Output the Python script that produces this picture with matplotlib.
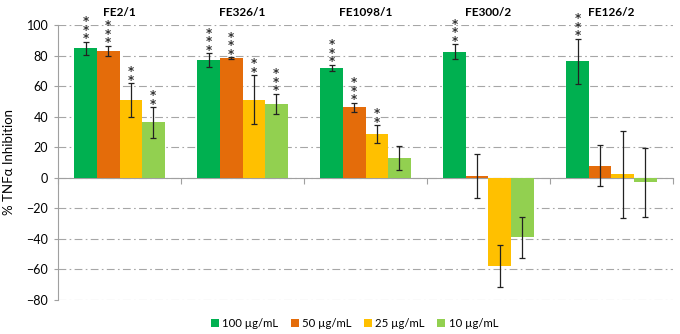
import matplotlib.pyplot as plt
import numpy as np

# extracts and concentrations
extracts = ["FE2/1", "FE326/1", "FE1098/1", "FE300/2", "FE126/2"]
doses = ["100 µg/mL", "50 µg/mL", "25 µg/mL", "10 µg/mL"]
colors = ["#00B050", "#E46C0A", "#FFC000", "#92D050"]

# % TNFa inhibition, one list per dose (order follows extracts)
inh_100 = [84.7, 76.9, 72.0, 82.5, 76.2]
inh_50 = [83.0, 78.4, 46.1, 1.3, 7.9]
inh_25 = [50.9, 51.0, 28.6, -57.8, 2.2]
inh_10 = [36.3, 48.3, 13.1, -39.0, -3.0]

err_100 = [4.5, 4.5, 2.0, 5.0, 14.7]
err_50 = [3.5, 0.5, 3.0, 14.5, 13.5]
err_25 = [11.0, 16.0, 5.7, 13.5, 28.5]
err_10 = [10.0, 6.7, 7.7, 13.6, 22.5]

# significance stars
sig_100 = ["***", "***", "***", "***", "***"]
sig_50 = ["***", "***", "***", "", ""]
sig_25 = ["**", "**", "**", "", ""]
sig_10 = ["**", "***", "", "", ""]

values = [inh_100, inh_50, inh_25, inh_10]
errors = [err_100, err_50, err_25, err_10]
stars = [sig_100, sig_50, sig_25, sig_10]

plt.rcParams["font.family"] = ["Lato", "DejaVu Sans"]

fig = plt.figure(figsize=(6.8, 3.34), dpi=100)
ax = fig.add_axes([0.0853, 0.102, 0.9044, 0.823])

x = np.arange(len(extracts))
w = 0.183
for i in range(4):
    xs = x + (i - 1.5) * w
    ax.bar(xs, values[i], w, color=colors[i], label=doses[i], zorder=2)
    ax.errorbar(xs, values[i], yerr=errors[i], fmt="none", ecolor="#222222",
                elinewidth=0.9, capsize=2.2, capthick=0.9, zorder=3)
    for xi, v, e, s in zip(xs, values[i], errors[i], stars[i]):
        if s:
            ax.annotate("\n".join(s), (xi, v + e), xytext=(0, -2.5),
                        textcoords="offset points", ha="center", va="bottom",
                        fontsize=8.5, fontweight="bold", linespacing=0.55,
                        color="#333333", family="DejaVu Sans", zorder=4)

for xi, name in zip(x, extracts):
    ax.text(xi, 1.045, name, transform=ax.get_xaxis_transform(),
            ha="center", va="center", fontsize=8.5, fontweight="bold")

ax.set_xlim(-0.5, len(extracts) - 0.5)
ax.set_ylim(-80, 100)
ax.set_yticks(np.arange(-80, 101, 20))
ax.set_xticks(np.arange(-0.5, len(extracts), 1.0))
ax.set_xticklabels([])
ax.tick_params(axis="x", direction="out", length=4, color="#A0A0A0")
ax.tick_params(axis="y", direction="out", length=3, color="#A0A0A0",
               labelsize=9, pad=4)
ax.set_ylabel("% TNFα Inhibition", fontsize=9.5, labelpad=8)

ax.yaxis.grid(True, linestyle=(0, (7, 3, 1.5, 3)), color="#A6A6A6", linewidth=0.8, zorder=0)
ax.set_axisbelow(True)
for side in ["top", "right"]:
    ax.spines[side].set_visible(False)
ax.spines["bottom"].set_position(("data", 0))
ax.spines["bottom"].set_color("#A0A0A0")
ax.spines["left"].set_color("#A0A0A0")
ax.spines["bottom"].set_zorder(1)

ax.legend(loc="center", bbox_to_anchor=(0.482, -0.085), ncol=4, frameon=False,
          fontsize=8.2, handlelength=0.7, handleheight=0.7, handletextpad=0.3,
          columnspacing=1.1, borderpad=0.1)

fig.savefig("out.png", dpi=100)
